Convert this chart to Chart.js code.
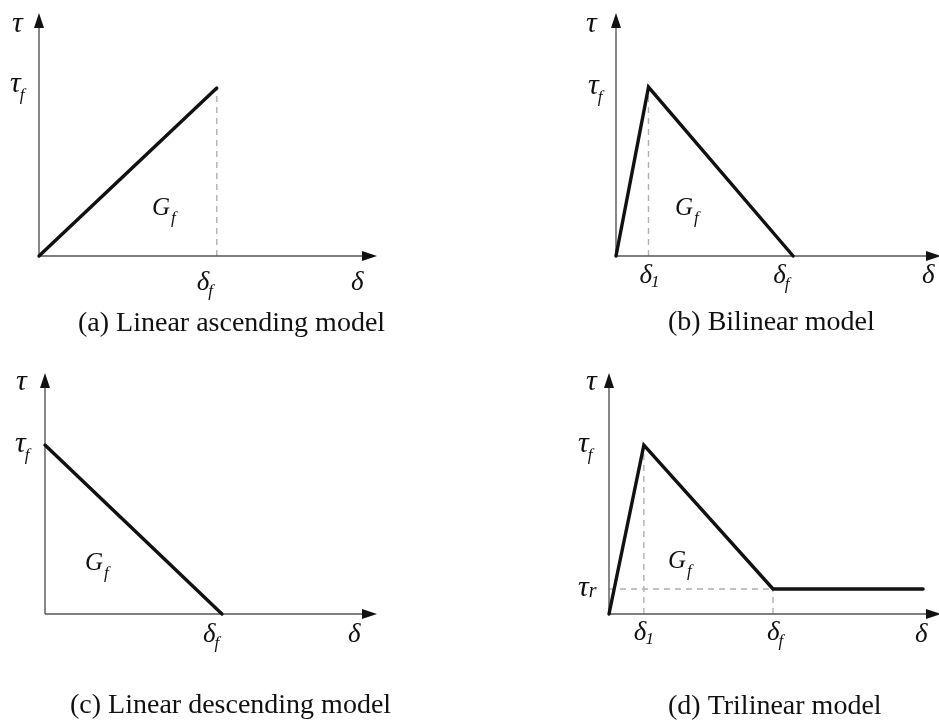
<!DOCTYPE html>
<html>
<head>
<meta charset="utf-8">
<script src="https://cdn.jsdelivr.net/npm/chart.js@4"></script>
<style>
  html, body { margin: 0; padding: 0; background: #fff; overflow: hidden; width: 939px; height: 725px; }
  canvas { position: absolute; }
</style>
</head>
<body>
<canvas id="panelA" width="470" height="362" style="left:0;top:0"></canvas>
<canvas id="panelB" width="480" height="362" style="left:470px;top:0"></canvas>
<canvas id="panelC" width="470" height="363" style="left:0;top:362px"></canvas>
<canvas id="panelD" width="480" height="363" style="left:470px;top:362px"></canvas>
<script>
// Axis range shared by every panel (arbitrary units, arrow tip at the max)
const AXIS_MAX = 10;

// (a) linear ascending bond-slip law
const ascSlip   = [0, 5.26];
const ascStress = [0, 6.91];

// (b) bilinear law
const biSlip   = [0, 1.0, 5.45];
const biStress = [0, 6.95, 0];

// (c) linear descending law
const descSlip   = [0, 5.33];
const descStress = [7.01, 0];

// (d) trilinear law with residual stress
const triSlip   = [0, 1.05, 4.94, 9.46];
const triStress = [0, 7.01, 1.04, 1.04];

// Panel captions
const captions = [
  '(a) Linear ascending model',
  '(b) Bilinear model',
  '(c) Linear descending model',
  '(d) Trilinear model'
];

const SERIF = '"Liberation Serif", "Times New Roman", serif';

function pts(xs, ys) { return xs.map((v, i) => ({ x: v, y: ys[i] })); }

// Draws a symbol with an optional subscript, baseline at (px, py)
function symbol(ctx, px, py, main, sub, s) {
  s = s || {};
  ctx.font = 'italic ' + (s.size || 30) + 'px ' + SERIF;
  ctx.textBaseline = 'alphabetic';
  ctx.textAlign = 'left';
  ctx.fillText(main, px, py);
  if (sub) {
    const w = ctx.measureText(main).width;
    ctx.font = 'italic ' + (s.subSize || 17) + 'px ' + SERIF;
    ctx.fillText(sub, px + w + (s.subDx == null ? -1 : s.subDx), py + (s.subDy == null ? 8 : s.subDy));
  }
}

const decor = {
  id: 'decor',
  beforeDatasetsDraw(chart, args, o) {
    const { ctx, chartArea: ca, scales: { x, y } } = chart;
    ctx.save();
    // dashed guide lines
    ctx.strokeStyle = '#b0b0b0';
    ctx.lineWidth = 1.4;
    ctx.setLineDash([6, 5]);
    (o.guides || []).forEach(g => {
      ctx.beginPath();
      ctx.moveTo(x.getPixelForValue(g[0]), y.getPixelForValue(g[1]));
      ctx.lineTo(x.getPixelForValue(g[2]), y.getPixelForValue(g[3]));
      ctx.stroke();
    });
    ctx.setLineDash([]);
    // axes
    ctx.strokeStyle = '#555';
    ctx.lineWidth = 1.4;
    ctx.beginPath();
    ctx.moveTo(ca.left, ca.bottom);
    ctx.lineTo(ca.right - 10, ca.bottom);
    ctx.moveTo(ca.left, ca.bottom);
    ctx.lineTo(ca.left, ca.top + 10);
    ctx.stroke();
    // arrowheads
    ctx.fillStyle = '#111';
    ctx.beginPath();
    ctx.moveTo(ca.right, ca.bottom);
    ctx.lineTo(ca.right - 15, ca.bottom - 5);
    ctx.lineTo(ca.right - 15, ca.bottom + 5);
    ctx.closePath();
    ctx.fill();
    ctx.beginPath();
    ctx.moveTo(ca.left, ca.top);
    ctx.lineTo(ca.left - 5, ca.top + 15);
    ctx.lineTo(ca.left + 5, ca.top + 15);
    ctx.closePath();
    ctx.fill();
    ctx.restore();
  },
  afterDraw(chart, args, o) {
    const { ctx, chartArea: ca, scales: { x, y } } = chart;
    ctx.save();
    ctx.fillStyle = '#111';
    // axis names
    symbol(ctx, ca.left + o.tau[0], ca.top + o.tau[1], 'τ', null);
    symbol(ctx, ca.right + o.delta[0], ca.bottom + o.delta[1], 'δ', null, { size: 27 });
    // slip marks along the x axis
    (o.xMarks || []).forEach(m => {
      symbol(ctx, x.getPixelForValue(m.v) + m.dx, ca.bottom + m.dy, 'δ', m.sub, { size: 27, subDx: m.subDx, subDy: m.subDy == null ? 6 : m.subDy });
    });
    // stress marks along the y axis
    (o.yMarks || []).forEach(m => {
      symbol(ctx, ca.left + m.dx, y.getPixelForValue(m.v) + m.dy, 'τ', m.sub, { subDx: m.subDx, subDy: m.subDy, subSize: m.subSize });
    });
    // fracture energy label
    symbol(ctx, ca.left + o.gf[0], ca.bottom + o.gf[1], 'G', 'f', { size: 25, subDx: 1, subDy: 8 });
    // caption
    ctx.font = '28px ' + SERIF;
    ctx.textAlign = 'left';
    ctx.textBaseline = 'alphabetic';
    ctx.fillText(o.caption, ca.left + o.cap[0], ca.bottom + o.cap[1]);
    ctx.restore();
  }
};

function makePanel(id, xs, ys, pad, decorOpts) {
  return new Chart(document.getElementById(id), {
    type: 'scatter',
    data: {
      datasets: [{
        data: pts(xs, ys),
        showLine: true,
        borderColor: '#111',
        borderWidth: 3.4,
        pointRadius: 0,
        borderJoinStyle: 'miter',
        borderCapStyle: 'round',
        tension: 0,
        clip: false
      }]
    },
    options: {
      responsive: false,
      animation: false,
      devicePixelRatio: 1,
      layout: { padding: pad },
      scales: {
        x: { type: 'linear', min: 0, max: AXIS_MAX, display: false },
        y: { type: 'linear', min: 0, max: AXIS_MAX, display: false }
      },
      plugins: {
        legend: { display: false },
        tooltip: { enabled: false },
        decor: decorOpts
      }
    },
    plugins: [decor]
  });
}

// (a)
makePanel('panelA', ascSlip, ascStress,
  { left: 39, right: 93, top: 13, bottom: 106 },
  {
    guides: [[ascSlip[1], 0, ascSlip[1], ascStress[1]]],
    tau: [-27, 19], delta: [-26, 34],
    xMarks: [{ v: ascSlip[1], sub: 'f', dx: -20, dy: 34 }],
    yMarks: [{ v: ascStress[1], sub: 'f', dx: -29, dy: 4 }],
    gf: [113, -41],
    caption: captions[0], cap: [39, 75]
  });

// (b)
makePanel('panelB', biSlip, biStress,
  { left: 146, right: 9, top: 13, bottom: 106 },
  {
    guides: [[biSlip[1], 0, biSlip[1], biStress[1]]],
    tau: [-30, 19], delta: [-19, 27],
    xMarks: [
      { v: biSlip[1], sub: '1', dx: -9, dy: 27, subDx: -1, subDy: 4 },
      { v: biSlip[2], sub: 'f', dx: -20, dy: 27 }
    ],
    yMarks: [{ v: biStress[1], sub: 'f', dx: -28, dy: 7 }],
    gf: [59, -41],
    caption: captions[1], cap: [52, 74]
  });

// (c)
makePanel('panelC', descSlip, descStress,
  { left: 45, right: 93, top: 11, bottom: 111 },
  {
    guides: [],
    tau: [-29, 17], delta: [-29, 28],
    xMarks: [{ v: descSlip[1], sub: 'f', dx: -19, dy: 28 }],
    yMarks: [{ v: descStress[0], sub: 'f', dx: -30, dy: 7 }],
    gf: [40, -44],
    caption: captions[2], cap: [25, 99]
  });

// (d)
makePanel('panelD', triSlip, triStress,
  { left: 139, right: 9, top: 11, bottom: 111 },
  {
    guides: [
      [triSlip[1], 0, triSlip[1], triStress[1]],
      [0, triStress[2], triSlip[2], triStress[2]],
      [triSlip[2], 0, triSlip[2], triStress[2]]
    ],
    tau: [-23, 17], delta: [-26, 28],
    xMarks: [
      { v: triSlip[1], sub: '1', dx: -10, dy: 26, subDx: -1, subDy: 4 },
      { v: triSlip[2], sub: 'f', dx: -6, dy: 26 }
    ],
    yMarks: [
      { v: triStress[1], sub: 'f', dx: -31, dy: 7 },
      { v: triStress[2], sub: 'r', dx: -31, dy: 7, subDx: 0, subDy: 1, subSize: 20 }
    ],
    gf: [59, -46],
    caption: captions[3], cap: [59, 100]
  });
</script>
</body>
</html>
